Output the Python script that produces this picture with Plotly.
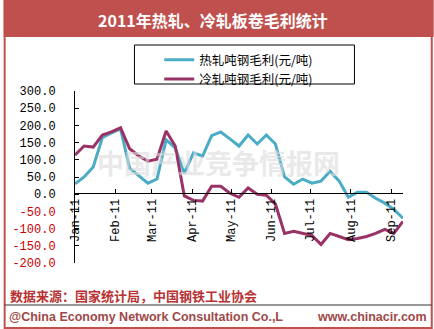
import plotly.graph_objects as go
import pandas as pd

# ---------------- data ----------------
week_start = "2011-01-01"
n_weeks = 37
hot_rolled = [30, 50, 79, 164, 178, 190, 76, 53, 32, 44, 158, 135, 61, 120, 111, 170, 181, 161,
              140, 172, 146, 172, 146, 50, 29, 44, 32, 38, 67, 38, -9, 6, 6, -12, -26, -44, -70]
cold_rolled = [114, 140, 137, 172, 181, 193, 132, 111, 96, 102, 184, 140, -5, -18, -20, 23, 23, 3,
               -9, 18, 0, -3, -29, -114, -108, -114, -120, -146, -114, -123, -132, -129, -123, -114,
               -102, -114, -79]
hot_name = "热轧吨钢毛利(元/吨)"
cold_name = "冷轧吨钢毛利(元/吨)"
month_ticks = ["2011-01-01", "2011-02-01", "2011-03-01", "2011-04-01", "2011-05-01",
               "2011-06-01", "2011-07-01", "2011-08-01", "2011-09-01"]
month_labels = ["Jan-11", "Feb-11", "Mar-11", "Apr-11", "May-11", "Jun-11", "Jul-11", "Aug-11", "Sep-11"]
y_ticks = [300, 250, 200, 150, 100, 50, 0, -50, -100, -150, -200]
title_text = "2011年热轧、冷轧板卷毛利统计"
source_text = "数据来源：国家统计局，中国钢铁工业协会"
copyright_text = "@China Economy Network Consultation Co.,L"
site_text = "www.chinacir.com"
watermark_text = "中国产业竞争情报网"

dates = pd.date_range(week_start, periods=n_weeks, freq="7D")

# ---------------- layout geometry ----------------
W, H = 434, 329
L, R, T, B = 72, 31, 91, 66
PW, PH = W - L - R, H - T - B


def px(x):
    return (x - L) / PW


def py(y):
    return (H - B - y) / PH


RED = "#C0504D"
TEAL = "#4BACC6"
PURPLE = "#993366"


def ytext(v):
    s = f"{v:.1f}"
    if v < 0:
        return f'<span style="color:#CC0000">{s}</span>'
    return s


fig = go.Figure()
fig.add_trace(go.Scatter(x=dates, y=hot_rolled, mode="lines", name=hot_name,
                         line=dict(color=TEAL, width=3)))
fig.add_trace(go.Scatter(x=dates, y=cold_rolled, mode="lines", name=cold_name,
                         line=dict(color=PURPLE, width=3)))

mono = "Liberation Mono"
cjk = "Noto Sans CJK SC"

fig.update_layout(
    width=W, height=H,
    margin=dict(l=L, r=R, t=T, b=B, pad=0),
    paper_bgcolor="white", plot_bgcolor="white",
    showlegend=True,
    legend=dict(x=px(157), y=py(45), xanchor="left", yanchor="top",
                bgcolor="rgba(0,0,0,0)", borderwidth=0,
                font=dict(family=cjk, size=12.5, color="black"),
                tracegroupgap=0, itemwidth=30),
    xaxis=dict(type="date", range=[dates[0], dates[-1]],
               tickvals=month_ticks, ticktext=month_labels, tickangle=-90,
               anchor="free", position=py(193),
               showline=True, linecolor="black", linewidth=1,
               ticks="inside", ticklen=4, tickcolor="black",
               showgrid=False, zeroline=False,
               tickfont=dict(family=mono, size=12, color="black")),
    yaxis=dict(range=[-200, 300], tickvals=y_ticks, ticktext=[ytext(v) for v in y_ticks],
               showline=True, linecolor="black", linewidth=1,
               ticks="inside", ticklen=4, tickcolor="black",
               ticklabelstandoff=16,
               showgrid=False, zeroline=False,
               tickfont=dict(family=mono, size=12, color="black")),
)

shapes = [
    # title bar
    dict(type="rect", xref="paper", yref="paper", x0=px(0), x1=px(W), y0=py(37), y1=py(0),
         fillcolor=RED, line=dict(width=0), layer="below"),
    # outer frame
    dict(type="rect", xref="paper", yref="paper", x0=px(1), x1=px(432), y0=py(328), y1=py(0),
         fillcolor="rgba(0,0,0,0)", line=dict(color=RED, width=2), layer="above"),
    # legend box
    dict(type="rect", xref="paper", yref="paper", x0=px(132), x1=px(354), y0=py(84), y1=py(45),
         fillcolor="rgba(0,0,0,0)", line=dict(color="black", width=1), layer="above"),
    # footer separator
    dict(type="line", xref="paper", yref="paper", x0=px(1), x1=px(432), y0=py(305), y1=py(305),
         line=dict(color="#333333", width=1)),
]
fig.update_layout(shapes=shapes)

annotations = [
    dict(text=f"<b>{title_text}</b>", x=px(211), y=py(20), xref="paper", yref="paper",
         xanchor="center", yanchor="middle", showarrow=False,
         font=dict(family=cjk, size=16, color="white")),
    dict(text=f"<b>{watermark_text}</b>", x=px(217), y=py(162), xref="paper", yref="paper",
         xanchor="center", yanchor="middle", showarrow=False, opacity=0.6,
         font=dict(family=cjk, size=27, color="#dcdcdc")),
    dict(text=f"<b>{source_text}</b>", x=px(4), y=py(295), xref="paper", yref="paper",
         xanchor="left", yanchor="middle", showarrow=False,
         font=dict(family=cjk, size=13, color="#B83232")),
    dict(text=f"<b>{copyright_text}</b>", x=px(3), y=py(317), xref="paper", yref="paper",
         xanchor="left", yanchor="middle", showarrow=False,
         font=dict(family="Liberation Sans", size=12.5, color="#A04848")),
    dict(text=f"<b>{site_text}</b>", x=px(429), y=py(317), xref="paper", yref="paper",
         xanchor="right", yanchor="middle", showarrow=False,
         font=dict(family="Liberation Sans", size=12.5, color="#A04848")),
]
fig.update_layout(annotations=annotations)

fig.write_html("out.html")
